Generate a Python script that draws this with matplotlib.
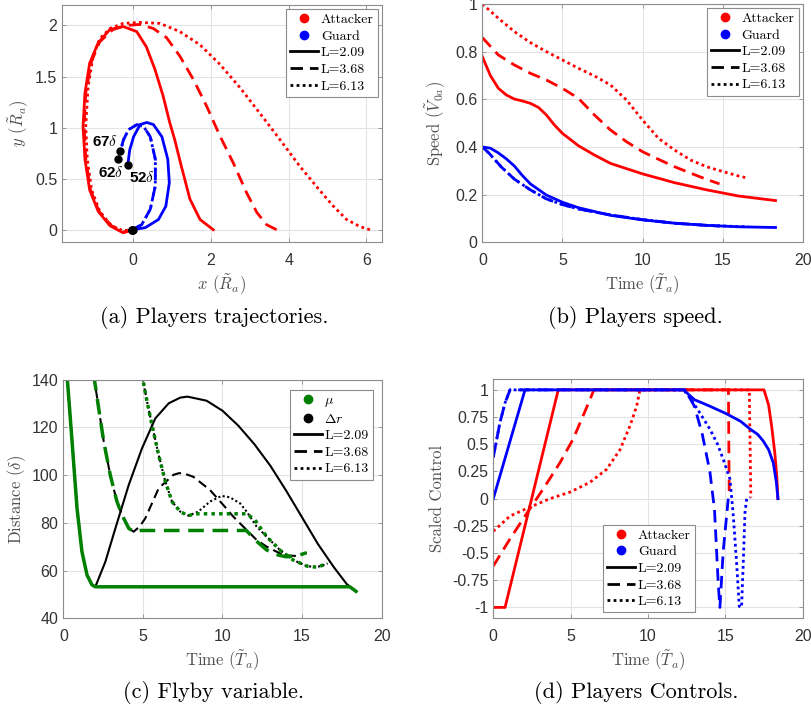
import numpy as np
import matplotlib
matplotlib.use("Agg")
import matplotlib.pyplot as plt
from matplotlib.lines import Line2D
from matplotlib.ticker import FuncFormatter

plt.rcParams['font.family'] = ['cmr10', 'DejaVu Serif']
plt.rcParams['mathtext.fontset'] = 'cm'
plt.rcParams['axes.formatter.use_mathtext'] = True
plt.rcParams['axes.unicode_minus'] = False

# ---------------- data ----------------
labels_L = ["L=2.09", "L=3.68", "L=6.13"]

# (a) trajectories
att_x_209 = [2.06, 1.72, 1.46, 1.24, 1.07, 0.94, 0.77, 0.56, 0.34, 0.09, -0.26, -0.60, -0.90, -1.12, -1.24, -1.29, -1.24, -1.12, -0.90, -0.60, -0.26, 0.0]
att_y_209 = [0.0, 0.10, 0.30, 0.62, 0.88, 1.05, 1.31, 1.57, 1.79, 1.94, 1.99, 1.96, 1.83, 1.63, 1.34, 1.01, 0.69, 0.39, 0.18, 0.04, -0.03, 0.0]
att_x_368 = [3.69, 3.43, 3.18, 2.92, 2.58, 2.23, 1.89, 1.55, 1.20, 0.86, 0.52, 0.17, -0.17, -0.52, -0.86, -1.07, -1.22, -1.26, -1.22, -1.10, -0.88, -0.56, -0.24, -0.04]
att_y_368 = [0.0, 0.05, 0.17, 0.36, 0.65, 0.92, 1.21, 1.47, 1.70, 1.88, 1.97, 2.01, 2.0, 1.96, 1.84, 1.65, 1.34, 1.01, 0.69, 0.39, 0.18, 0.04, -0.02, 0.0]
att_x_613 = [6.09, 5.84, 5.49, 5.15, 4.81, 4.29, 3.78, 3.26, 2.75, 2.23, 1.72, 1.20, 0.69, 0.17, -0.26, -0.60, -0.86, -1.03, -1.16, -1.22, -1.18, -1.07, -0.86, -0.56, -0.26, -0.07]
att_y_613 = [0.0, 0.03, 0.10, 0.23, 0.38, 0.62, 0.88, 1.14, 1.39, 1.62, 1.81, 1.94, 2.02, 2.03, 2.02, 1.97, 1.87, 1.70, 1.40, 1.01, 0.69, 0.39, 0.18, 0.04, -0.01, 0.0]
grd_x_209 = [-0.03, 0.31, 0.65, 0.84, 0.93, 0.89, 0.74, 0.52, 0.35, 0.18, 0.01, -0.09, -0.14]
grd_y_209 = [0.0, 0.02, 0.10, 0.23, 0.46, 0.69, 0.91, 1.03, 1.05, 1.03, 0.91, 0.78, 0.63]
grd_x_368 = [-0.03, 0.22, 0.44, 0.57, 0.57, 0.44, 0.27, 0.10, -0.12, -0.25, -0.33]
grd_y_368 = [0.0, 0.05, 0.20, 0.43, 0.69, 0.91, 1.01, 1.03, 0.98, 0.88, 0.77]
grd_x_613 = [-0.03, 0.22, 0.44, 0.57, 0.57, 0.44, 0.27, 0.10, -0.12, -0.25, -0.32, -0.38]
grd_y_613 = [0.0, 0.05, 0.20, 0.43, 0.69, 0.91, 1.01, 1.03, 0.98, 0.88, 0.78, 0.69]
miss_labels = ["52", "67", "62"]

# (b) speed
t_as_209 = [0, 0.5, 1, 1.5, 2, 2.5, 3, 3.5, 4, 4.5, 5, 6, 7, 8, 10, 12, 14, 16, 18.3]
v_as_209 = [0.779, 0.70, 0.646, 0.618, 0.601, 0.593, 0.583, 0.566, 0.534, 0.492, 0.457, 0.405, 0.366, 0.331, 0.287, 0.25, 0.22, 0.194, 0.175]
t_as_368 = [0, 1, 2, 3, 4, 5, 6, 7, 8, 9, 10, 11, 12, 13, 14, 14.8]
v_as_368 = [0.859, 0.786, 0.744, 0.709, 0.681, 0.646, 0.604, 0.534, 0.471, 0.422, 0.38, 0.348, 0.317, 0.29, 0.264, 0.245]
t_as_613 = [0, 1, 2, 3, 4, 5, 6, 7, 8, 9, 10, 11, 12, 13, 14, 15, 16, 16.6]
v_as_613 = [1.0, 0.94, 0.884, 0.838, 0.8, 0.765, 0.73, 0.698, 0.66, 0.597, 0.513, 0.436, 0.387, 0.345, 0.317, 0.297, 0.278, 0.269]
t_gs_209 = [0, 0.5, 1, 1.5, 2, 2.5, 3, 4, 5, 6, 8, 10, 12, 14, 16, 18.3]
v_gs_209 = [0.4, 0.395, 0.375, 0.35, 0.32, 0.28, 0.245, 0.198, 0.168, 0.145, 0.113, 0.094, 0.08, 0.071, 0.065, 0.062]
t_gs_368 = [0, 0.4, 0.8, 1.2, 1.6, 2, 3, 4, 5, 6, 7, 8, 10, 12, 14, 14.8]
v_gs_368 = [0.4, 0.375, 0.345, 0.315, 0.29, 0.265, 0.22, 0.182, 0.158, 0.14, 0.127, 0.115, 0.095, 0.08, 0.071, 0.068]
t_gs_613 = [0, 0.4, 0.8, 1.2, 1.6, 2, 3, 4, 5, 6, 7, 8, 10, 12, 14, 16, 16.6]
v_gs_613 = [0.4, 0.375, 0.345, 0.315, 0.29, 0.265, 0.22, 0.182, 0.158, 0.14, 0.127, 0.115, 0.095, 0.08, 0.071, 0.066, 0.065]

# (c) flyby variable: mu (green) and delta r (black)
t_mu_209 = [0.23, 0.55, 0.86, 1.17, 1.49, 1.80, 2.01, 18.0, 18.39]
mu_209 = [142, 114, 86.1, 67.9, 58.1, 54.0, 53.2, 53.2, 51.3]
t_dr_209 = [0.23, 0.55, 0.86, 1.17, 1.49, 1.80, 2.01, 2.64, 3.27, 4.11, 4.94, 5.78, 6.62, 7.35, 7.8, 9, 10, 11, 12, 13, 14, 15, 16, 17, 17.8, 18.39]
dr_209 = [142, 114, 86.1, 67.9, 58.1, 54.0, 53.2, 63.7, 77.7, 95.9, 111.2, 123.8, 130.1, 132.5, 132.9, 131.2, 127, 120.7, 113, 104, 93.5, 82.3, 71.1, 61.4, 54.4, 51.3]
t_mu_368 = [1.91, 2.22, 2.54, 2.95, 3.37, 3.69, 4.11, 4.42, 4.84, 5.2, 11.5, 12.04, 12.78, 13.5, 14.0, 14.66, 15.29]
mu_368 = [142, 128, 114, 100, 88.9, 83.3, 77.7, 76.3, 76.8, 76.8, 76.8, 72.9, 68.6, 66.5, 65.8, 66.1, 67.5]
t_dr_368 = [1.91, 2.22, 2.54, 2.95, 3.37, 3.69, 4.11, 4.42, 4.8, 5.15, 5.99, 6.91, 7.25, 7.54, 8.17, 9.21, 10.05, 10.68, 11.31, 12.15, 12.78, 13.82, 14.66, 15.29]
dr_368 = [142, 128, 114, 100, 88.9, 83.3, 77.7, 76.3, 78.5, 81.9, 94.5, 100.1, 100.8, 100.8, 99.3, 93.8, 87.5, 82.6, 78.4, 72.8, 70.0, 66.5, 66.1, 67.5]
t_mu_613 = [4.94, 5.26, 5.57, 5.99, 6.41, 6.83, 7.35, 7.85, 8.3, 11.52, 12.04, 12.78, 13.61, 14.45, 15.29, 15.92, 16.33, 16.6]
mu_613 = [142, 130.8, 121, 108.4, 97.3, 88.9, 84.7, 83.0, 83.8, 83.8, 81.2, 74.2, 68.6, 64.4, 61.9, 61.4, 62.3, 63.0]
t_dr_613 = [4.94, 5.26, 5.57, 5.99, 6.41, 6.83, 7.35, 7.85, 8.48, 9.21, 9.95, 10.47, 11.1, 11.52, 12.15, 12.78, 13.61, 14.45, 15.29, 15.92, 16.33, 16.6]
dr_613 = [142, 130.8, 121, 108.4, 97.3, 88.9, 84.7, 83.0, 84.7, 88.9, 91.3, 90.7, 88.2, 84.7, 78.4, 74.2, 68.6, 64.4, 61.9, 61.4, 62.3, 63.0]

# (d) scaled controls
t_ac_209 = [0, 0.76, 4.2, 17.5, 17.8, 18.0, 18.2, 18.33, 18.4]
u_ac_209 = [-1, -1, 1, 1, 0.86, 0.66, 0.42, 0.2, 0]
t_ac_368 = [0, 1.08, 2.33, 3.23, 4.31, 5.17, 6.25, 6.5, 15.2, 15.25]
u_ac_368 = [-0.62, -0.37, -0.1, 0.09, 0.33, 0.55, 0.91, 1.0, 1.0, 0.07]
t_ac_613 = [0, 1.08, 2.33, 3.67, 4.96, 6.25, 7.33, 8.19, 8.84, 9.27, 9.48, 16.55, 16.65]
u_ac_613 = [-0.30, -0.16, -0.08, 0.0, 0.06, 0.15, 0.27, 0.45, 0.67, 0.85, 1.0, 1.0, 0.01]
t_gc_209 = [0, 2.05, 12.3, 13, 14, 15.08, 16, 16.6, 17.1, 17.45, 17.8, 18.1, 18.3, 18.4]
u_gc_209 = [0, 1, 1, 0.91, 0.85, 0.78, 0.71, 0.64, 0.59, 0.53, 0.45, 0.33, 0.15, 0]
t_gc_368 = [0, 0.43, 0.76, 1.08, 12.4, 13.0, 13.5, 14.0, 14.3, 14.55, 14.65, 14.86, 15.19]
u_gc_368 = [0.38, 0.70, 0.88, 1.0, 1.0, 0.85, 0.6, 0.25, -0.1, -0.8, -1.0, -0.49, 0.0]
t_gc_613 = [0, 0.43, 0.76, 1.08, 12.3, 12.7, 13.3, 14.0, 14.5, 14.87, 15.3, 15.5, 15.73, 15.9, 16.05, 16.16, 16.27, 16.38, 16.6]
u_gc_613 = [0.38, 0.70, 0.88, 1.0, 1.0, 0.93, 0.8, 0.64, 0.5, 0.36, 0.18, -0.13, -0.59, -0.99, -1.0, -0.59, -0.13, 0.0, 0.01]

# ---------------- styling ----------------
DASH = (0, (4.5, 2.5))
DOT = (0, (1, 1.2))
styles = ['-', DASH, DOT]
RED, BLUE, GREEN = '#ff0000', '#0000ff', '#008000'
SPINE = '#8c8c8c'
LABC = '#505050'

fig = plt.figure(figsize=(8.12, 7.08), dpi=100)
ax_a = fig.add_axes([0.0764, 0.6582, 0.3940, 0.3347])
ax_b = fig.add_axes([0.5940, 0.6578, 0.3946, 0.3366])
ax_c = fig.add_axes([0.0780, 0.1267, 0.3920, 0.3370])
ax_d = fig.add_axes([0.6075, 0.1267, 0.3810, 0.3380])


def style_axes(ax):
    ax.grid(True, color='#e3e3e3', lw=0.8)
    ax.set_axisbelow(True)
    for s in ax.spines.values():
        s.set_color(SPINE)
        s.set_linewidth(0.8)
    ax.tick_params(direction='in', length=3, width=0.6, color=SPINE,
                   top=True, right=True, labelsize=11.5, labelcolor='#333333',
                   labelfontfamily='Liberation Sans')
    ax.tick_params(axis='x', pad=8)
    ax.tick_params(axis='y', pad=3.5)
    fmt = FuncFormatter(lambda v, p: '%g' % v)
    ax.xaxis.set_major_formatter(fmt)
    ax.yaxis.set_major_formatter(fmt)


def set_labels(ax, xl, yl, ypad=4):
    ax.set_xlabel(xl, fontsize=12, color=LABC, labelpad=3)
    ax.set_ylabel(yl, fontsize=12, color=LABC, labelpad=ypad)


def add_legend(ax, first, **kw):
    handles = [Line2D([], [], ls='none', marker='o', ms=6, color=c) for c in first[1]]
    handles += [Line2D([], [], color='k', lw=2, ls=s) for s in styles]
    opts = dict(fontsize=10, handlelength=2.0, labelspacing=0.28, borderpad=0.3,
                handletextpad=0.2, borderaxespad=0.3, fancybox=False,
                framealpha=1, edgecolor='#8c8c8c')
    opts.update(kw)
    leg = ax.legend(handles, first[0] + labels_L, **opts)
    leg.get_frame().set_linewidth(0.8)
    return leg


# (a)
for xs, ys, st in zip([att_x_209, att_x_368, att_x_613], [att_y_209, att_y_368, att_y_613], styles):
    ax_a.plot(xs, ys, color=RED, lw=2, ls=st)
for xs, ys, st in zip([grd_x_209, grd_x_368, grd_x_613], [grd_y_209, grd_y_368, grd_y_613], styles):
    ax_a.plot(xs, ys, color=BLUE, lw=2, ls=st)
    ax_a.plot(xs[0], ys[0], 'o', color='k', ms=5, zorder=5)
    ax_a.plot(xs[-1], ys[-1], 'o', color='k', ms=5, zorder=5)
ax_a.plot(att_x_209[-1], att_y_209[-1], 'o', color='k', ms=5, zorder=5)
lab_kw = dict(fontsize=11, fontweight='bold', family='Liberation Sans', zorder=6)
ax_a.text(grd_x_209[-1] + 0.04, grd_y_209[-1] - 0.12, miss_labels[0] + r'$\delta$', ha='left', va='center', **lab_kw)
ax_a.text(grd_x_368[-1] - 0.06, grd_y_368[-1] + 0.09, miss_labels[1] + r'$\delta$', ha='right', va='center', **lab_kw)
ax_a.text(grd_x_613[-1] + 0.13, grd_y_613[-1] - 0.13, miss_labels[2] + r'$\delta$', ha='right', va='center', **lab_kw)
ax_a.set_xlim(-1.83, 6.4)
ax_a.set_ylim(-0.12, 2.2)
ax_a.set_xticks([0, 2, 4, 6])
ax_a.set_yticks([0, 0.5, 1, 1.5, 2])
style_axes(ax_a)
set_labels(ax_a, r'$x$ ($\tilde{R}_a$)', r'$y$ ($\tilde{R}_a$)', ypad=3)
add_legend(ax_a, (["Attacker", "Guard"], [RED, BLUE]), loc='upper right')

# (b)
for ts, vs, st in zip([t_as_209, t_as_368, t_as_613], [v_as_209, v_as_368, v_as_613], styles):
    ax_b.plot(ts, vs, color=RED, lw=2, ls=st)
for ts, vs, st in zip([t_gs_209, t_gs_368, t_gs_613], [v_gs_209, v_gs_368, v_gs_613], styles):
    ax_b.plot(ts, vs, color=BLUE, lw=2, ls=st)
ax_b.set_xlim(0, 20)
ax_b.set_ylim(0, 1)
ax_b.set_xticks([0, 5, 10, 15, 20])
ax_b.set_yticks([0, 0.2, 0.4, 0.6, 0.8, 1])
style_axes(ax_b)
set_labels(ax_b, r'Time ($\tilde{T}_a$)', r'Speed ($\tilde{V}_{0a}$)', ypad=5)
add_legend(ax_b, (["Attacker", "Guard"], [RED, BLUE]), loc='upper right')

# (c)
for ts, vs, st in zip([t_dr_209, t_dr_368, t_dr_613], [dr_209, dr_368, dr_613], styles):
    ax_c.plot(ts, vs, color='k', lw=1.5, ls=st)
for ts, vs, st in zip([t_mu_209, t_mu_368, t_mu_613], [mu_209, mu_368, mu_613], styles):
    ax_c.plot(ts, vs, color=GREEN, lw=2.5, ls=st)
ax_c.set_xlim(0, 20)
ax_c.set_ylim(40, 140)
ax_c.set_xticks([0, 5, 10, 15, 20])
ax_c.set_yticks([40, 60, 80, 100, 120, 140])
style_axes(ax_c)
set_labels(ax_c, r'Time ($\tilde{T}_a$)', r'Distance ($\delta$)', ypad=3)
add_legend(ax_c, ([r'$\mu$', r'$\Delta r$'], [GREEN, 'k']), loc='upper right',
           bbox_to_anchor=(0.985, 0.975))

# (d)
for ts, vs, st in zip([t_ac_209, t_ac_368, t_ac_613], [u_ac_209, u_ac_368, u_ac_613], styles):
    ax_d.plot(ts, vs, color=RED, lw=2, ls=st)
for ts, vs, st in zip([t_gc_209, t_gc_368, t_gc_613], [u_gc_209, u_gc_368, u_gc_613], styles):
    ax_d.plot(ts, vs, color=BLUE, lw=2, ls=st)
ax_d.set_xlim(0, 20)
ax_d.set_ylim(-1.1, 1.1)
ax_d.set_xticks([0, 5, 10, 15, 20])
ax_d.set_yticks([-1, -0.75, -0.5, -0.25, 0, 0.25, 0.5, 0.75, 1])
style_axes(ax_d)
set_labels(ax_d, r'Time ($\tilde{T}_a$)', 'Scaled Control', ypad=5)
add_legend(ax_d, (["Attacker", "Guard"], [RED, BLUE]), loc='lower left',
           bbox_to_anchor=(0.355, 0.025), borderaxespad=0)

# captions
cap_kw = dict(fontsize=16, ha='center', va='center')
fig.text(214 / 812, 1 - 317 / 708, '(a) Players trajectories.', **cap_kw)
fig.text(635 / 812, 1 - 317 / 708, '(b) Players speed.', **cap_kw)
fig.text(214 / 812, 1 - 692 / 708, '(c) Flyby variable.', **cap_kw)
fig.text(636 / 812, 1 - 692 / 708, '(d) Players Controls.', **cap_kw)

fig.savefig('out.png', dpi=100)
